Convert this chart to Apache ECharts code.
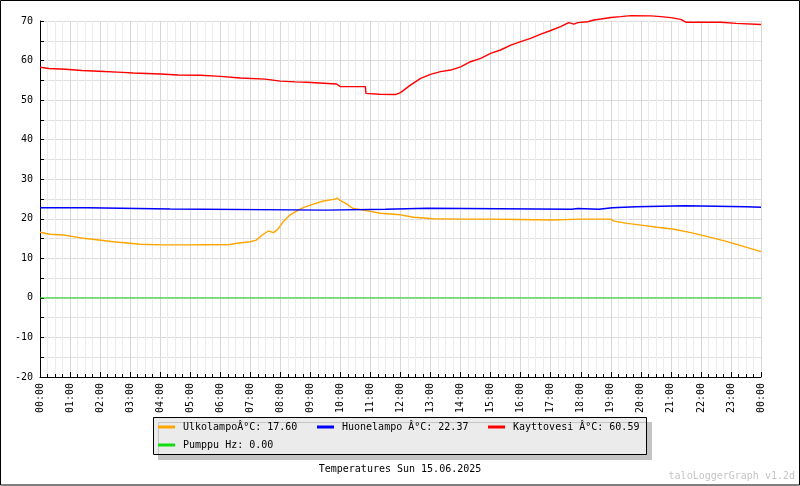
<!DOCTYPE html>
<html>
<head>
<meta charset="utf-8">
<script src="https://cdn.jsdelivr.net/npm/echarts@6/dist/echarts.min.js"></script>
<style>
html,body{margin:0;padding:0;background:#fff;}
#c{width:800px;height:486px;}
</style>
</head>
<body>
<div id="c"></div>
<script>
// ---- data (hour of day, value) ----
const seriesNames = ["UlkolampoÂ°C: 17.60", "Huonelampo Â°C: 22.37", "Kayttovesi Â°C: 60.59", "Pumppu Hz: 0.00"];
const ulkolampo = [[0,16.6],[0.33,16.1],[0.78,15.9],[1.1,15.5],[1.44,15.07],[1.89,14.7],[2.44,14.2],[3,13.8],[3.33,13.55],[4.1,13.4],[5,13.4],[5.5,13.45],[6.33,13.5],[6.55,13.8],[7,14.2],[7.2,14.6],[7.4,15.9],[7.6,16.9],[7.77,16.5],[7.9,17.2],[8.1,19.3],[8.33,21.0],[8.55,22.0],[8.78,22.9],[9.1,23.7],[9.43,24.5],[9.78,24.9],[9.9,25.2],[10.0,24.6],[10.22,23.7],[10.4,22.65],[10.9,22.0],[11.33,21.4],[12,21.0],[12.44,20.4],[13.1,20.0],[14,19.9],[15,19.9],[16,19.8],[17,19.7],[18,19.9],[19,19.9],[19.1,19.4],[19.55,18.85],[20,18.4],[20.55,17.85],[21.1,17.35],[21.67,16.5],[22.22,15.5],[22.78,14.4],[23.33,13.2],[24,11.7]];
const huonelampo = [[0,22.8],[1.6,22.8],[1.62,22.47],[4.33,22.47],[4.35,22.2],[9.5,22.2],[9.52,22.4],[11.5,22.4],[11.52,22.65],[12.9,22.65],[12.92,22.4],[17.7,22.4],[17.72,22.6],[17.9,22.6],[17.92,22.4],[18.6,22.4],[18.62,22.8],[19.05,22.8],[19.07,23.05],[19.83,23.05],[19.85,23.3],[21.5,23.3],[21.52,23.05],[23.5,23.05],[23.52,22.9],[24,22.9]];
const kayttovesi = [[0,58.3],[0.3,58.0],[0.85,57.8],[1.4,57.5],[1.95,57.3],[2.75,57.0],[3.1,56.85],[4.0,56.6],[4.6,56.35],[5.33,56.3],[6.0,56.0],[6.67,55.6],[7.5,55.3],[8.0,54.8],[8.5,54.6],[8.88,54.5],[8.9,54.1],[9.87,54.07],[10.0,53.4],[10.83,53.4],[10.85,51.7],[11.3,51.5],[11.83,51.4],[12.0,51.9],[12.33,53.8],[12.67,55.5],[13.0,56.5],[13.33,57.2],[13.67,57.6],[14.0,58.4],[14.33,59.7],[14.67,60.56],[15,61.8],[15.33,62.67],[15.67,63.9],[16,64.8],[16.33,65.6],[16.67,66.7],[17,67.6],[17.33,68.6],[17.6,69.6],[17.77,69.2],[17.9,69.6],[18.23,69.8],[18.44,70.25],[18.67,70.5],[19,70.9],[19.33,71.1],[19.67,71.35],[20.33,71.3],[20.67,71.1],[21,70.85],[21.33,70.4],[21.5,69.7],[22.67,69.7],[22.7,69.4],[23.17,69.4],[23.2,69.1],[24,69.1]];
const pumppu = [[0,0],[24,0]];
const yTicks = {min:-20, max:70, step:10};
const xTicks = {min:0, max:24, step:1};
const titleText = "Temperatures Sun 15.06.2025";
const watermark = "taloLoggerGraph v1.2d";

const colors = ['#ffa500','#0000ff','#ff0000','#22cc22'];
const mono = 'DejaVu Sans Mono';
const chart = echarts.init(document.getElementById('c'), null, {renderer:'canvas'});

function mkSeries(i, data){
  return {
    name: seriesNames[i], type:'line', data:data, showSymbol:false, symbol:'none', clip:false,
    lineStyle:{color:colors[i], width: i===3 ? 1 : 1.4}, itemStyle:{color:colors[i]},
    z: i===3 ? 1 : 3, silent:true
  };
}
function mkLegend(i, left, top){
  return {
    data:[{name:seriesNames[i], itemStyle:{color: i===3 ? '#11dd11' : colors[i]}}], left:left, top:top, padding:0, orient:'horizontal',
    icon:'rect', itemWidth:17, itemHeight:3, selectedMode:false, z:10,
    textStyle:{fontFamily:mono, fontSize:10, color:'#000', padding:[0,0,0,3], lineHeight:12}
  };
}

chart.setOption({
  animation:false,
  backgroundColor:'#fff',
  grid:{left:40, right:39, top:21, bottom:109, containLabel:false},
  title:[{text:titleText, left:'center', top:464, padding:0,
    textStyle:{fontFamily:mono, fontSize:10, fontWeight:'normal', color:'#000'}},
    {text:watermark, right:5, top:471, padding:0,
    textStyle:{fontFamily:mono, fontSize:10, fontWeight:'normal', color:'#c4c4c4'}}],
  legend:[mkLegend(0,158,421), mkLegend(1,317,421), mkLegend(2,488,421), mkLegend(3,158,439)],
  graphic:[
    {type:'rect', z:-10, zlevel:0, shape:{x:0.5,y:0.5,width:799,height:484.5}, style:{fill:'none', stroke:'#000', lineWidth:1}, silent:true},
    {type:'rect', z:0, shape:{x:153.5,y:417.5,width:493,height:37}, style:{fill:'#ebebeb', stroke:'#000', lineWidth:1, shadowColor:'#c4c4c4', shadowOffsetX:5, shadowOffsetY:5, shadowBlur:0}, silent:true}
  ],
  xAxis:{
    type:'value', min:xTicks.min, max:xTicks.max, interval:xTicks.step,
    axisLine:{show:true, onZero:false, lineStyle:{color:'#000', width:1}},
    axisTick:{show:true, inside:true, length:5, lineStyle:{color:'#000'}},
    minorTick:{show:true, splitNumber:4, length:3, lineStyle:{color:'#000'}},
    splitLine:{show:true, lineStyle:{color:'#d6d6d6', width:1}},
    minorSplitLine:{show:true, lineStyle:{color:'#ececec', width:1}},
    axisLabel:{rotate:90, margin:6, fontFamily:mono, fontSize:10, color:'#000',
      formatter:function(v){ const h = Math.round(v)%24; return (h<10?'0':'')+h+':00'; }}
  },
  yAxis:{
    type:'value', min:yTicks.min, max:yTicks.max, interval:yTicks.step,
    axisLine:{show:true, onZero:false, lineStyle:{color:'#000', width:1}},
    axisTick:{show:true, inside:true, length:4, lineStyle:{color:'#000'}},
    minorTick:{show:true, splitNumber:2, length:4, lineStyle:{color:'#000'}},
    splitLine:{show:true, lineStyle:{color:'#dcdcdc', width:1}},
    minorSplitLine:{show:true, lineStyle:{color:'#e2e2e2', width:1}},
    axisLabel:{margin:7, fontFamily:mono, fontSize:10, color:'#000'}
  },
  series:[mkSeries(3,pumppu), mkSeries(0,ulkolampo), mkSeries(1,huonelampo), mkSeries(2,kayttovesi)]
});
</script>
</body>
</html>
